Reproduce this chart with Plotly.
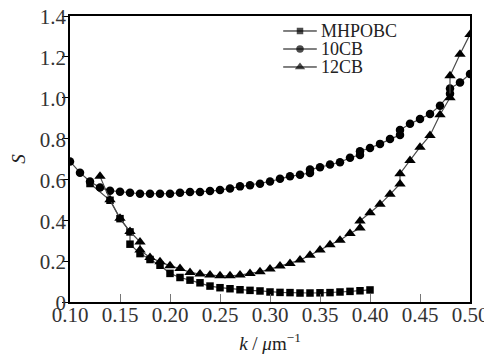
import plotly.graph_objects as go

# ---- data ----
mh_k = [0.12, 0.14, 0.15, 0.16, 0.16, 0.17, 0.18, 0.19, 0.20, 0.21, 0.22, 0.23, 0.24,
        0.25, 0.26, 0.27, 0.28, 0.29, 0.30, 0.31, 0.32, 0.33, 0.34, 0.35, 0.36, 0.37,
        0.38, 0.39, 0.40]
mh_s = [0.58, 0.498, 0.408, 0.343, 0.283, 0.237, 0.208, 0.180, 0.140, 0.120, 0.107, 0.094, 0.078,
        0.070, 0.065, 0.060, 0.057, 0.054, 0.049, 0.047, 0.046, 0.044, 0.044, 0.045, 0.046, 0.049,
        0.052, 0.055, 0.059]

cb10_k = [0.10, 0.11, 0.12, 0.13, 0.14, 0.15, 0.16, 0.17, 0.18, 0.19, 0.20, 0.21, 0.22,
          0.23, 0.24, 0.25, 0.26, 0.27, 0.28, 0.29, 0.30, 0.31, 0.32, 0.33, 0.34, 0.34,
          0.35, 0.36, 0.37, 0.38, 0.39, 0.39, 0.40, 0.41, 0.42, 0.43, 0.43, 0.44, 0.45,
          0.46, 0.47, 0.48, 0.48, 0.49, 0.50]
cb10_s = [0.688, 0.633, 0.590, 0.560, 0.545, 0.540, 0.535, 0.530, 0.530, 0.530, 0.530, 0.535, 0.538,
          0.538, 0.543, 0.548, 0.556, 0.566, 0.572, 0.579, 0.590, 0.603, 0.615, 0.623, 0.632, 0.648,
          0.660, 0.673, 0.684, 0.706, 0.720, 0.738, 0.754, 0.774, 0.798, 0.818, 0.842, 0.872, 0.896,
          0.920, 0.961, 1.020, 1.045, 1.075, 1.116]

cb12_k = [0.13, 0.14, 0.15, 0.16, 0.17, 0.17, 0.18, 0.19, 0.20, 0.21, 0.22, 0.23, 0.24,
          0.25, 0.26, 0.27, 0.28, 0.29, 0.30, 0.31, 0.32, 0.33, 0.34, 0.35, 0.36, 0.37,
          0.38, 0.39, 0.39, 0.40, 0.41, 0.42, 0.43, 0.43, 0.44, 0.45, 0.46, 0.47, 0.48,
          0.48, 0.49, 0.50]
cb12_s = [0.615, 0.500, 0.410, 0.345, 0.294, 0.254, 0.218, 0.197, 0.177, 0.164, 0.145, 0.137, 0.132,
          0.128, 0.128, 0.132, 0.140, 0.148, 0.161, 0.176, 0.189, 0.205, 0.229, 0.255, 0.280, 0.302,
          0.335, 0.362, 0.397, 0.437, 0.478, 0.527, 0.578, 0.628, 0.693, 0.758, 0.815, 0.917, 1.000,
          1.107, 1.213, 1.310]

series_names = ["MHPOBC", "10CB", "12CB"]
series_symbols = ["square", "circle", "triangle-up"]
series_sizes = [7.5, 8.5, 10]

x_tickvals = [0.10, 0.15, 0.20, 0.25, 0.30, 0.35, 0.40, 0.45, 0.50]
x_ticktext = ["0.10", "0.15", "0.20", "0.25", "0.30", "0.35", "0.40", "0.45", "0.50"]
y_tickvals = [0, 0.2, 0.4, 0.6, 0.8, 1.0, 1.2, 1.4]
y_ticktext = ["0", "0.2", "0.4", "0.6", "0.8", "1.0", "1.2", "1.4"]

FONT = "Liberation Serif"
LINE_COLOR = "#4a4a4a"

fig = go.Figure()
data = [(mh_k, mh_s), (cb10_k, cb10_s), (cb12_k, cb12_s)]
for (k, s), name, sym, sz in zip(data, series_names, series_symbols, series_sizes):
    fig.add_trace(go.Scatter(
        x=k, y=s, name=name, mode="lines+markers",
        line=dict(color=LINE_COLOR, width=1.2),
        marker=dict(symbol=sym, size=sz, color="black", line=dict(width=0)),
        showlegend=False,
    ))

# ---- hand-built legend (compact rows) on an overlay axis ----
leg_rows_y = [0.9476, 0.8846, 0.8217]
for name, sym, sz, yy in zip(series_names, series_symbols, series_sizes, leg_rows_y):
    fig.add_trace(go.Scatter(
        x=[0.533, 0.575, 0.617], y=[yy, yy, yy], mode="lines+markers",
        xaxis="x2", yaxis="y2", showlegend=False, hoverinfo="skip",
        line=dict(color="black", width=1),
        marker=dict(symbol=sym, size=[0, sz - 1, 0], color="black", line=dict(width=0)),
    ))
    fig.add_annotation(x=0.623, y=yy, xref="paper", yref="paper", text=name,
                       showarrow=False, xanchor="left", yanchor="middle",
                       font=dict(family=FONT, size=18, color="#222"))

# page body has an 8px margin, so the figure is drawn 8px smaller and offset
fig.update_layout(
    width=484, height=346,
    margin=dict(l=62, r=22, t=8, b=52, autoexpand=False),
    showlegend=False,
    paper_bgcolor="white", plot_bgcolor="white",
    font=dict(family=FONT, size=21, color="#222"),
    xaxis=dict(
        range=[0.10, 0.50], tickvals=x_tickvals, ticktext=x_ticktext,
        ticks="inside", ticklen=8, tickcolor="#777", tickwidth=1,
        ticklabelstandoff=-7, ticklabeloverflow="allow",
        showline=True, linecolor="black", linewidth=1.5, mirror=True,
        showgrid=False, zeroline=False, automargin=False,
        tickfont=dict(family=FONT, size=21, color="#333"),
        title=dict(text="<i>k</i> / <i>μ</i>m<sup>−1</sup>",
                   font=dict(family=FONT, size=19, color="#222")),
    ),
    yaxis=dict(
        range=[0, 1.4], tickvals=y_tickvals, ticktext=y_ticktext,
        ticks="outside", ticklen=6, tickcolor="black", tickwidth=1,
        ticklabelshift=1, ticklabelstandoff=-8, ticklabeloverflow="allow",
        showline=True, linecolor="black", linewidth=1.5, mirror=True,
        showgrid=False, zeroline=False, automargin=False,
        tickfont=dict(family=FONT, size=21, color="#333"),
        title=dict(text="<i>S</i>",
                   font=dict(family=FONT, size=19, color="#222")),
    ),
    xaxis2=dict(overlaying="x", range=[0, 1], visible=False, anchor="y2"),
    yaxis2=dict(overlaying="y", range=[0, 1], visible=False, anchor="x2"),
)

fig.write_html("out.html")
